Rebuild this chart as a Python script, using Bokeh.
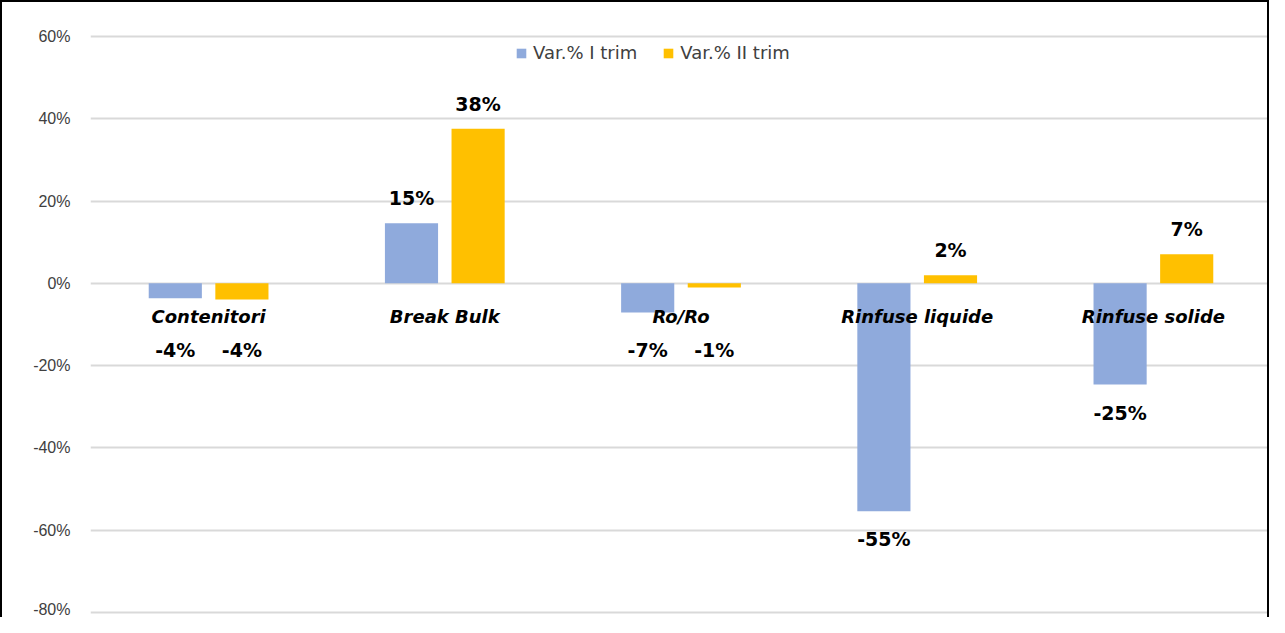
from bokeh.plotting import figure
from bokeh.models import ColumnDataSource, FactorRange, FixedTicker, NumeralTickFormatter, Legend, LegendItem
from bokeh.transform import dodge
from bokeh.core.properties import value
from bokeh.embed import file_html
from bokeh.resources import INLINE

categories = ["Contenitori", "Break Bulk", "Ro/Ro", "Rinfuse liquide", "Rinfuse solide"]
series_names = ["Var.% I trim", "Var.% II trim"]
var_i = [-0.036, 0.146, -0.071, -0.554, -0.246]
var_ii = [-0.039, 0.376, -0.010, 0.020, 0.071]
y_ticks = [-0.8, -0.6, -0.4, -0.2, 0.0, 0.2, 0.4, 0.6]

BLUE = "#8faadc"
YELLOW = "#ffc000"
FONT = "DejaVu Sans"
TICK_FONT = "Liberation Sans"


def label_anchor(v):
    # positive: above bar end; negative: below bar end (kept below the category labels)
    return v if v >= 0 else min(v, -0.095)


def fmt(v):
    return f"{round(v * 100):d}%"


src = ColumnDataSource(dict(
    cat=categories,
    a=var_i,
    b=var_ii,
    a_lab=[fmt(v) for v in var_i],
    b_lab=[fmt(v) for v in var_ii],
    a_y=[label_anchor(v) for v in var_i],
    b_y=[label_anchor(v) for v in var_ii],
    a_off=[-25 if v >= 0 else 28 for v in var_i],
    b_off=[-25 if v >= 0 else 28 for v in var_ii],
    zero=[0.0] * len(categories),
))

p = figure(
    x_range=FactorRange(*categories, range_padding=0),
    y_range=(-0.8171, 0.6195),
    width=1269, height=617,
    output_backend="svg", toolbar_location=None,
    min_border_left=88, min_border_right=0, min_border_top=26, min_border_bottom=0,
)
p.styles = {"border-left": "2px solid black", "border-top": "2px solid black",
            "border-right": "2px solid black", "box-sizing": "border-box"}

p.outline_line_color = None
p.xaxis.visible = False
p.xgrid.grid_line_color = None
p.ygrid.grid_line_color = "#d9d9d9"
p.ygrid.grid_line_width = 2
p.yaxis.ticker = FixedTicker(ticks=y_ticks)
p.yaxis.formatter = NumeralTickFormatter(format="0%")
p.yaxis.axis_line_color = None
p.yaxis.major_tick_line_color = None
p.yaxis.minor_tick_line_color = None
p.yaxis.major_label_text_font = TICK_FONT
p.yaxis.major_label_text_font_size = "16px"
p.yaxis.major_label_text_color = "#404040"
p.yaxis.major_label_standoff = 14

w = 0.225
off = 0.141
r1 = p.vbar(x=dodge("cat", -off, range=p.x_range), top="a", bottom="zero", width=w,
            source=src, fill_color=BLUE, line_color=None)
r2 = p.vbar(x=dodge("cat", off, range=p.x_range), top="b", bottom="zero", width=w,
            source=src, fill_color=YELLOW, line_color=None)

# category labels
p.text(x="cat", y="zero", text="cat", source=src, y_offset=33,
       text_font=value(FONT), text_font_size="18px", text_font_style="bold italic",
       text_align="center", text_baseline="middle", text_color="black")

# value labels
p.text(x=dodge("cat", -off, range=p.x_range), y="a_y", text="a_lab", y_offset="a_off", source=src,
       text_font=value(FONT), text_font_size="19px", text_font_style="bold",
       text_align="center", text_baseline="middle", text_color="black")
p.text(x=dodge("cat", off, range=p.x_range), y="b_y", text="b_lab", y_offset="b_off", source=src,
       text_font=value(FONT), text_font_size="19px", text_font_style="bold",
       text_align="center", text_baseline="middle", text_color="black")

legend = Legend(items=[LegendItem(label=series_names[0], renderers=[r1]),
                       LegendItem(label=series_names[1], renderers=[r2])],
                orientation="horizontal", location=(425, 556))
legend.border_line_color = None
legend.background_fill_alpha = 0
legend.padding = 0
legend.margin = 0
legend.spacing = 25
legend.glyph_width = 12
legend.glyph_height = 12
legend.label_standoff = 6
legend.label_text_font = FONT
legend.label_text_font_size = "18px"
legend.label_text_color = "#404040"
p.add_layout(legend, "center")

open("out.html", "w").write(file_html(p, INLINE))
